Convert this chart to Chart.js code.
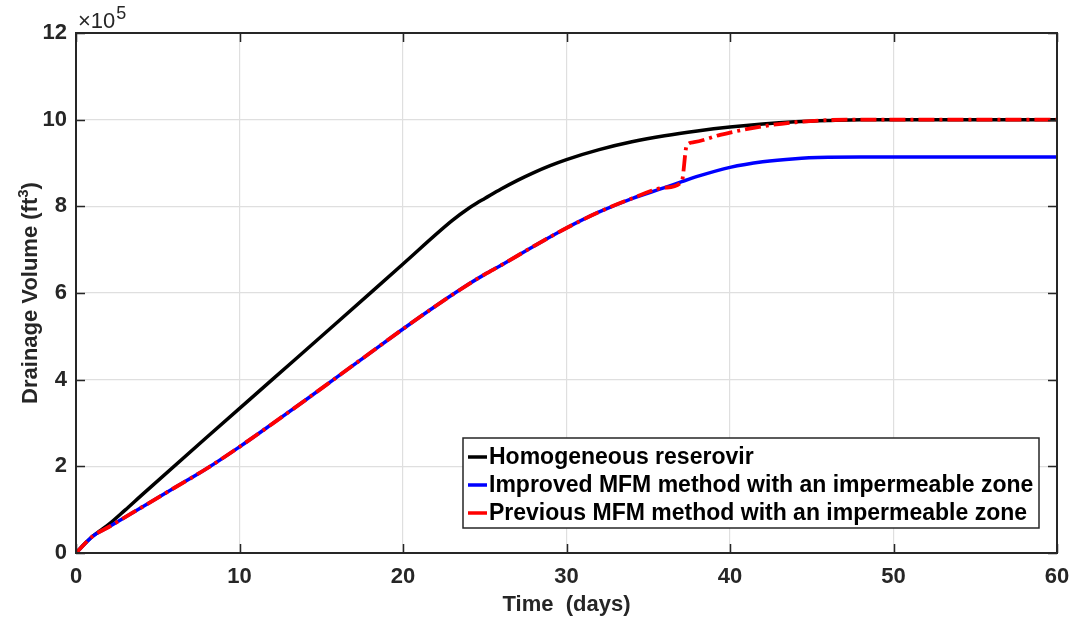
<!DOCTYPE html>
<html>
<head>
<meta charset="utf-8">
<script src="https://cdn.jsdelivr.net/npm/chart.js@4.4.1/dist/chart.umd.min.js"></script>
<style>
  html, body { margin: 0; padding: 0; background: #ffffff; }
  #wrap { width: 1074px; height: 623px; position: relative; }
</style>
</head>
<body>
<div id="wrap"><canvas id="c" width="1074" height="623"></canvas></div>
<script>
// ---- Data (drainage volume in units of 10^5 ft^3) ----
const seriesLabels = [
  'Homogeneous reserovir',
  'Improved MFM method with an impermeable zone',
  'Previous MFM method with an impermeable zone'
];
const homoT = [0, 0.5, 1, 1.5, 2, 3, 4, 8, 12, 16, 20, 23, 24, 24.5, 25, 26, 27, 28, 29, 30, 32, 34, 36, 38, 40, 42, 44, 46, 48, 50, 60];
const homoV = [0, 0.2, 0.38, 0.52, 0.66, 0.99, 1.33, 2.67, 4.0, 5.33, 6.67, 7.67, 7.95, 8.07, 8.18, 8.4, 8.6, 8.78, 8.94, 9.08, 9.31, 9.49, 9.63, 9.74, 9.83, 9.9, 9.95, 9.98, 10.0, 10.0, 10.0];

const impT = [0, 1, 2, 4, 6, 8, 10, 12, 14, 16, 18, 20, 22, 24, 25, 26, 28, 30, 32, 34, 36, 37.05, 38, 40, 42, 44, 46, 48, 50, 60];
const impV = [0, 0.38, 0.6, 1.05, 1.5, 1.95, 2.45, 2.98, 3.52, 4.07, 4.62, 5.17, 5.7, 6.2, 6.43, 6.64, 7.08, 7.5, 7.87, 8.18, 8.43, 8.57, 8.69, 8.9, 9.03, 9.1, 9.13, 9.14, 9.14, 9.14];

const prevT = [0, 1, 2, 4, 6, 8, 10, 12, 14, 16, 18, 20, 22, 24, 25, 26, 28, 30, 32, 34, 36, 37.05, 37.35, 37.8, 39.4, 41, 42.6, 44, 46, 48, 50, 60];
const prevV = [0, 0.38, 0.6, 1.05, 1.5, 1.95, 2.45, 2.98, 3.52, 4.07, 4.62, 5.17, 5.7, 6.2, 6.43, 6.64, 7.08, 7.5, 7.87, 8.18, 8.43, 8.57, 9.4, 9.48, 9.65, 9.78, 9.88, 9.94, 9.99, 10.0, 10.0, 10.0];

const xTicks = [0, 10, 20, 30, 40, 50, 60];
const yTicks = [0, 2, 4, 6, 8, 10, 12];
const xTitle = 'Time  (days)';
const yTitleMain = 'Drainage Volume (ft';
const yTitleSup = '3';
const yTitleEnd = ')';
const seriesColors = ['#000000', '#0000ff', '#ff0000'];

function pts(t, v) { return t.map((x, i) => ({ x: x, y: v[i] })); }

const AX = '#262626';
const FONT = '"Liberation Sans", Arial, Helvetica, sans-serif';

const framePlugin = {
  id: 'frame',
  afterDraw(chart) {
    const ctx = chart.ctx;
    const a = chart.chartArea;
    const xs = chart.scales.x, ys = chart.scales.y;
    ctx.save();
    // ticks (inward, all four sides)
    ctx.strokeStyle = AX;
    ctx.lineWidth = 1.5;
    const L = 9;
    ctx.beginPath();
    xTicks.forEach(t => {
      const px = Math.round(xs.getPixelForValue(t)) + 0.5;
      ctx.moveTo(px, a.bottom); ctx.lineTo(px, a.bottom - L);
      ctx.moveTo(px, a.top); ctx.lineTo(px, a.top + L);
    });
    yTicks.forEach(t => {
      const py = Math.round(ys.getPixelForValue(t)) + 0.5;
      ctx.moveTo(a.left, py); ctx.lineTo(a.left + L, py);
      ctx.moveTo(a.right, py); ctx.lineTo(a.right - L, py);
    });
    ctx.stroke();
    // box
    ctx.lineWidth = 2;
    ctx.strokeRect(a.left, a.top, a.right - a.left, a.bottom - a.top);

    // exponent label
    ctx.fillStyle = AX;
    ctx.textBaseline = 'alphabetic';
    ctx.textAlign = 'left';
    ctx.font = '22px ' + FONT;
    ctx.fillText('\u00D710', a.left + 2, a.top - 5);
    const w = ctx.measureText('\u00D710').width;
    ctx.font = '18px ' + FONT;
    ctx.fillText('5', a.left + 3 + w, a.top - 14);

    // axis titles
    ctx.font = 'bold 22px ' + FONT;
    ctx.textAlign = 'center';
    ctx.textBaseline = 'middle';
    ctx.fillText(xTitle, (a.left + a.right) / 2, 605);
    ctx.save();
    ctx.translate(29, (a.top + a.bottom) / 2);
    ctx.rotate(-Math.PI / 2);
    const wMain = ctx.measureText(yTitleMain).width;
    const wEnd = ctx.measureText(yTitleEnd).width;
    ctx.font = 'bold 15px ' + FONT;
    const wSup = ctx.measureText(yTitleSup).width;
    const total = wMain + wSup + wEnd;
    let x0 = -total / 2;
    ctx.textAlign = 'left';
    ctx.textBaseline = 'alphabetic';
    ctx.font = 'bold 22px ' + FONT;
    ctx.fillText(yTitleMain, x0, 8);
    ctx.font = 'bold 15px ' + FONT;
    ctx.fillText(yTitleSup, x0 + wMain, -1);
    ctx.font = 'bold 22px ' + FONT;
    ctx.fillText(yTitleEnd, x0 + wMain + wSup, 8);
    ctx.restore();

    // legend box
    const bx = 463, by = 438, bw = 576, bh = 90;
    ctx.fillStyle = '#ffffff';
    ctx.fillRect(bx, by, bw, bh);
    ctx.strokeStyle = AX;
    ctx.lineWidth = 1.5;
    ctx.strokeRect(bx, by, bw, bh);
    ctx.font = 'bold 23px ' + FONT;
    ctx.textAlign = 'left';
    ctx.textBaseline = 'middle';
    seriesLabels.forEach((lab, i) => {
      const cy = by + 19 + i * 28;
      ctx.strokeStyle = seriesColors[i];
      ctx.lineWidth = 3.5;
      ctx.beginPath();
      ctx.moveTo(bx + 5, cy); ctx.lineTo(bx + 24, cy);
      ctx.stroke();
      ctx.fillStyle = '#000000';
      ctx.fillText(lab, bx + 26, cy + 1);
    });
    ctx.restore();
  }
};

new Chart(document.getElementById('c'), {
  type: 'line',
  data: {
    datasets: [
      { label: seriesLabels[0], data: pts(homoT, homoV), borderColor: seriesColors[0], borderWidth: 3.5,
        pointRadius: 0, cubicInterpolationMode: 'monotone', order: 3 },
      { label: seriesLabels[1], data: pts(impT, impV), borderColor: seriesColors[1], borderWidth: 3.5,
        pointRadius: 0, cubicInterpolationMode: 'monotone', order: 2 },
      { label: seriesLabels[2], data: pts(prevT, prevV), borderColor: seriesColors[2], borderWidth: 3.8,
        borderDash: [16, 5, 3, 5], pointRadius: 0, cubicInterpolationMode: 'monotone', order: 1 }
    ]
  },
  options: {
    responsive: false,
    animation: false,
    layout: { padding: { top: 33, right: 17, left: 0, bottom: 0 } },
    plugins: { legend: { display: false }, tooltip: { enabled: false } },
    scales: {
      x: {
        type: 'linear', min: 0, max: 60,
        afterBuildTicks(s) { s.ticks = xTicks.map(v => ({ value: v })); },
        afterFit(s) { s.height = 70; s.paddingLeft = 0; s.paddingRight = 0; },
        grid: { color: '#dfdfdf', lineWidth: 1.2, drawTicks: false },
        border: { display: false },
        ticks: { color: AX, font: { family: FONT, size: 22, weight: 'bold' }, padding: 11, maxRotation: 0 }
      },
      y: {
        type: 'linear', min: 0, max: 12,
        afterBuildTicks(s) { s.ticks = yTicks.map(v => ({ value: v })); },
        afterFit(s) { s.width = 76; s.paddingTop = 0; s.paddingBottom = 0; },
        grid: { color: '#dfdfdf', lineWidth: 1.2, drawTicks: false },
        border: { display: false },
        ticks: { color: AX, font: { family: FONT, size: 22, weight: 'bold' }, padding: 9 }
      }
    }
  },
  plugins: [framePlugin]
});
</script>
</body>
</html>
